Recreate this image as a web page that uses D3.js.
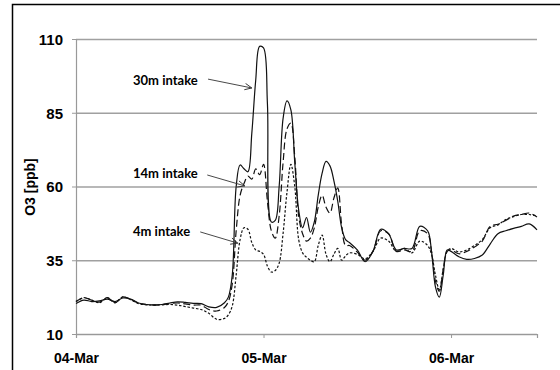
<!DOCTYPE html>
<html>
<head>
<meta charset="utf-8">
<script src="https://cdnjs.cloudflare.com/ajax/libs/d3/7.8.5/d3.min.js"></script>
<style>
    body { margin: 0; background: #fff; }
    .tick text { font-family: "Liberation Sans", Arial, sans-serif; font-weight: bold; fill: #000; }
</style>
</head>
<body>
<div id="chart"></div>
<script>
// Define SVG area dimensions
var svgWidth = 560;
var svgHeight = 370;

// Chart area (pixels inside the svg)
var plotLeft = 76, plotRight = 537, plotTop = 39, plotBottom = 334;

// ---- data ----
// hours since 04-Mar 00:00
var hours = [0, 1, 2, 3, 4, 5, 6, 7, 8, 9, 10, 11, 12, 13, 14, 15, 16, 17, 18, 19,
    19.5, 20, 20.5, 21, 21.5, 22, 22.5, 23, 23.5, 24, 24.5, 25, 25.5, 26, 26.5, 27, 27.5, 28, 28.5, 29,
    29.5, 30, 30.5, 31, 31.5, 32, 32.5, 33, 33.5, 34, 34.5,
    35, 36, 37, 38, 39, 40, 41, 42, 43, 44, 45,
    45.5, 46, 46.5, 47, 47.5,
    48, 49, 50, 51, 52, 53, 54, 55, 56, 57, 58, 59];

var o3_30m = [20.3, 21.5, 21.0, 21.2, 21.8, 21.0, 22.2, 21.8, 20.5, 20.0, 19.9, 20.0, 20.5, 20.9, 20.7, 20.4, 20.3, 19.2, 19.0, 20.6,
    22.5, 30, 60, 67.3, 66, 65, 78, 96, 107.5, 107, 88, 48, 48.5, 60, 83, 89, 86, 68, 52, 46,
    49.5, 44.5, 48, 57, 64.5, 68.5, 67, 62, 55, 46, 42,
    41, 38.5, 34.5, 38, 45.5, 44, 38.5, 39, 39, 46.5, 45,
    38, 26, 22.5, 30, 38.5,
    38, 36.2, 35.3, 35.6, 36.8, 40.5, 44, 45, 45.8, 46.5, 47.3, 45.3];

var o3_14m = [21.0, 22.3, 21.5, 20.8, 22.3, 20.6, 22.6, 21.8, 20.5, 20.0, 19.8, 19.9, 20.3, 20.5, 20.2, 19.8, 19.8, 18.3, 17.8, 19.0,
    21, 27, 45, 57, 61, 63.5, 62.5, 66, 64, 67.5, 55, 45, 42.5, 50, 68, 79.5, 81.5, 70, 50, 44,
    41.5, 42.5, 46, 53, 57, 53, 51, 56, 59.5, 47, 40,
    40, 37.8, 35, 38, 45, 44, 38, 38.5, 38, 45, 44,
    38, 28, 24.5, 32, 38,
    38.5, 37.2, 38, 39.5, 41.5, 46.5, 47.2, 48.5, 50, 50.5, 51, 49.7];

var o3_4m = [21.0, 22.3, 21.5, 20.6, 22.3, 20.6, 22.6, 21.6, 20.3, 19.9, 19.8, 19.9, 20.0, 19.8, 19.3, 18.8, 18.3, 17.0, 15.0, 15.3,
    16.5, 19.5, 30, 42, 46, 45.5, 41, 38.5, 38, 37, 33, 31, 31.5, 34, 44, 58, 67.5, 60, 42, 37.5,
    36, 35, 34.5, 40, 43.5, 37, 34.5, 37, 39, 35, 36.5,
    37.5, 37, 35.5, 38, 42.5, 41.5, 38, 39, 37.5, 41.5, 40,
    37, 30, 25, 32, 38,
    39, 37.8, 38.5, 40, 42, 46, 47, 48.8, 49.8, 50.5, 50.5, 50];

var yTicks = [10, 35, 60, 85, 110];
var xTicks = [0, 24, 48];
var xTickLabels = ["04-Mar", "05-Mar", "06-Mar"];

// annotation labels and arrows (in data units: hours, ppb)
var noteLabels = ["30m intake", "14m intake", "4m intake"];
var noteText = [[7.3, 96.1], [7.3, 64.6], [7.3, 44.9]];
var noteFrom = [[16.9, 96.4], [16.8, 63.9], [15.9, 44.6]];
var noteTo = [[22.5, 93.4], [21.6, 60.2], [20.7, 40.8]];

// series styles
var seriesList = [
    { values: o3_4m, dash: "2.5,1.8" },
    { values: o3_14m, dash: "7,3.5" },
    { values: o3_30m, dash: null }
];

var svg = d3.select("#chart")
    .append("svg")
    .attr("width", svgWidth)
    .attr("height", svgHeight);

// outer frame
svg.append("rect")
    .attr("x", 12.5)
    .attr("y", 4.5)
    .attr("width", 600)
    .attr("height", 400)
    .attr("fill", "none")
    .attr("stroke", "#000")
    .attr("stroke-width", 1.5);

var xScale = d3.scaleLinear()
    .domain([0, 59])
    .range([plotLeft, plotRight]);

var yScale = d3.scaleLinear()
    .domain([10, 110])
    .range([plotBottom, plotTop]);

// gridlines
svg.append("g")
    .attr("transform", `translate(${plotLeft}, 0)`)
    .call(d3.axisLeft(yScale).tickValues(yTicks).tickSize(-(plotRight - plotLeft)).tickFormat(""))
    .call(g => g.select(".domain").remove())
    .selectAll("line")
    .attr("stroke", "#a0a0a0")
    .attr("stroke-width", 1.3);

// y axis
var yAxis = svg.append("g")
    .attr("transform", `translate(${plotLeft}, 0)`)
    .call(d3.axisLeft(yScale).tickValues(yTicks).tickSize(4).tickPadding(9));

yAxis.select(".domain").attr("stroke", "#999").attr("stroke-width", 1.2);
yAxis.selectAll(".tick line").attr("stroke", "#999");
yAxis.selectAll("text").style("font-size", "15px").attr("dy", "0.36em");

// x axis
var xAxis = svg.append("g")
    .attr("transform", `translate(0, ${plotBottom})`)
    .call(d3.axisBottom(xScale).tickValues(xTicks).tickSize(4)
        .tickFormat((d, i) => xTickLabels[i]));

xAxis.select(".domain").attr("stroke", "#999").attr("stroke-width", 1.2);
xAxis.selectAll(".tick line").attr("stroke", "#999");
xAxis.selectAll("text").style("font-size", "14px").attr("y", 29).attr("dy", 0);

// y axis title
svg.append("text")
    .attr("transform", "translate(35, 187) rotate(-90)")
    .attr("text-anchor", "middle")
    .style("font-family", "'Liberation Sans', Arial, sans-serif")
    .style("font-weight", "bold")
    .style("font-size", "14px")
    .text("O3 [ppb]");

// lines
var line = d3.line()
    .x((d, i) => xScale(hours[i]))
    .y(d => yScale(d))
    .curve(d3.curveCatmullRom.alpha(0.5));

svg.append("g")
    .selectAll("path")
    .data(seriesList)
    .enter()
    .append("path")
    .attr("d", d => line(d.values))
    .attr("fill", "none")
    .attr("stroke", "#111")
    .attr("stroke-width", 1.2)
    .attr("stroke-dasharray", d => d.dash);

// arrow marker
svg.append("defs").append("marker")
    .attr("id", "arrow")
    .attr("markerUnits", "userSpaceOnUse")
    .attr("markerWidth", 10)
    .attr("markerHeight", 10)
    .attr("refX", 8)
    .attr("refY", 4)
    .attr("orient", "auto")
    .append("path")
    .attr("d", "M1,0.8 L8,4 L1,7.2")
    .attr("fill", "none")
    .attr("stroke", "#333")
    .attr("stroke-width", 0.9);

// annotations
var notes = svg.append("g");

noteLabels.forEach(function (label, i) {
    notes.append("text")
        .attr("x", xScale(noteText[i][0]))
        .attr("y", yScale(noteText[i][1]) + 4.7)
        .style("font-family", "Lato, 'Liberation Sans', sans-serif")
        .style("font-weight", "bold")
        .style("font-size", "13px")
        .text(label);

    notes.append("line")
        .attr("x1", xScale(noteFrom[i][0]))
        .attr("y1", yScale(noteFrom[i][1]))
        .attr("x2", xScale(noteTo[i][0]))
        .attr("y2", yScale(noteTo[i][1]))
        .attr("stroke", "#333")
        .attr("stroke-width", 0.9)
        .attr("marker-end", "url(#arrow)");
});
</script>
</body>
</html>
